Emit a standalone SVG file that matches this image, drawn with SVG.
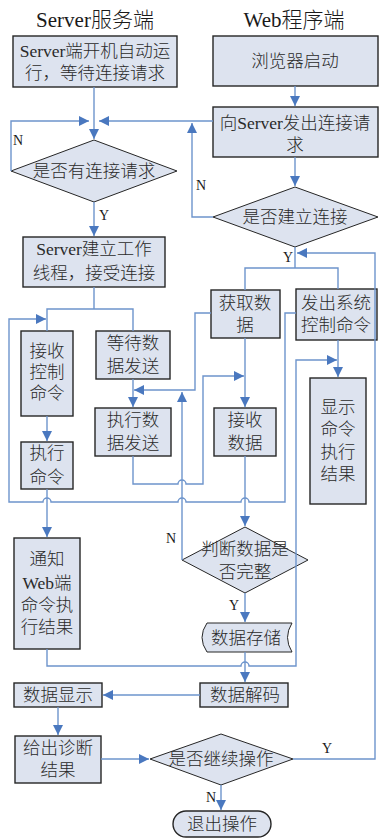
<svg xmlns="http://www.w3.org/2000/svg" width="379" height="838" viewBox="0 0 379 838">
<style>
.n{fill:#dde3ef;stroke:#262626;stroke-width:1.4}
.d{fill:#dde3ef;stroke:#262626;stroke-width:1}
.t{font-family:"Liberation Serif","Noto Sans CJK SC",serif;font-size:17.5px;font-weight:300;fill:#2a2a2a;text-anchor:middle;dominant-baseline:central}
.h{font-family:"Liberation Serif","Noto Sans CJK SC",serif;font-size:21px;font-weight:300;fill:#1a1a1a;text-anchor:middle;dominant-baseline:central}
.l{font-family:"Liberation Serif","Noto Sans CJK SC",serif;font-size:14px;fill:#1a1a1a;text-anchor:middle;dominant-baseline:central}
.c{fill:none;stroke:#6d94cc;stroke-width:1.4}
.a{marker-end:url(#ah)}
</style>
<defs>
<marker id="ah" viewBox="0 0 10 10" refX="10" refY="5" markerWidth="10" markerHeight="10" markerUnits="userSpaceOnUse" orient="auto">
<path d="M0,0 L10,5 L0,10 z" fill="#4a78bf"/>
</marker>
</defs>
<rect width="379" height="838" fill="#ffffff"/>
<text class="h" x="95" y="20">Server服务端</text>
<text class="h" x="294" y="20">Web程序端</text>

<g id="nodes">
<g id="n1"><rect class="n" x="13" y="36" width="164" height="51"/><text class="t" x="95" y="51">Server端开机自动运</text><text class="t" x="95" y="73">行，等待连接请求</text></g>
<g id="n2"><rect class="n" x="213" y="36" width="165" height="50"/><text class="t" x="295" y="61">浏览器启动</text></g>
<g id="n3"><rect class="n" x="213" y="107" width="165" height="50"/><text class="t" x="295" y="123">向Server发出连接请</text><text class="t" x="295" y="145">求</text></g>
<g id="n4"><polygon class="d" points="94,140 177,171 94,202 11,171"/><text class="t" x="94" y="171">是否有连接请求</text></g>
<g id="n5"><polygon class="d" points="295,187 378,217 295,247 213,217"/><text class="t" x="295" y="217">是否建立连接</text></g>
<g id="n6"><rect class="n" x="23" y="237" width="142" height="50"/><text class="t" x="94" y="249">Server建立工作</text><text class="t" x="94" y="273">线程，接受连接</text></g>
<g id="n7"><rect class="n" x="211" y="290" width="69" height="48"/><text class="t" x="245" y="303">获取数</text><text class="t" x="245" y="325">据</text></g>
<g id="n8"><rect class="n" x="296" y="289" width="81" height="51"/><text class="t" x="336" y="303">发出系统</text><text class="t" x="336" y="325">控制命令</text></g>
<g id="n9"><rect class="n" x="21" y="331" width="52" height="85"/><text class="t" x="47" y="351">接收</text><text class="t" x="47" y="372">控制</text><text class="t" x="47" y="393">命令</text></g>
<g id="n10"><rect class="n" x="96" y="331" width="74" height="48"/><text class="t" x="133" y="343">等待数</text><text class="t" x="133" y="366">据发送</text></g>
<g id="n11"><rect class="n" x="95" y="408" width="76" height="48"/><text class="t" x="133" y="420">执行数</text><text class="t" x="133" y="443">据发送</text></g>
<g id="n12"><rect class="n" x="214" y="408" width="62" height="48"/><text class="t" x="245" y="420">接收</text><text class="t" x="245" y="443">数据</text></g>
<g id="n13"><rect class="n" x="21" y="442" width="52" height="47"/><text class="t" x="47" y="453">执行</text><text class="t" x="47" y="477">命令</text></g>
<g id="n14"><rect class="n" x="310" y="378" width="56" height="126"/><text class="t" x="338" y="407">显示</text><text class="t" x="338" y="429">命令</text><text class="t" x="338" y="452">执行</text><text class="t" x="338" y="474">结果</text></g>
<g id="n15"><rect class="n" x="14" y="538" width="66" height="111"/><text class="t" x="47" y="559">通知</text><text class="t" x="47" y="583">Web端</text><text class="t" x="47" y="605">命令执</text><text class="t" x="47" y="627">行结果</text></g>
<g id="n16"><polygon class="d" points="245,527 308,560 245,593 182,560"/><text class="t" x="245" y="549">判断数据是</text><text class="t" x="245" y="572">否完整</text></g>
<g id="n17"><path class="d" d="M207,623 L292,623 Q283,637.5 292,652 L207,652 Q197,637.5 207,623 Z"/><text class="t" x="246" y="638">数据存储</text></g>
<g id="n18"><rect class="n" x="200" y="683" width="88" height="24"/><text class="t" x="245" y="695">数据解码</text></g>
<g id="n19"><rect class="n" x="14" y="683" width="88" height="24"/><text class="t" x="58" y="695">数据显示</text></g>
<g id="n20"><rect class="n" x="15" y="736" width="86" height="47"/><text class="t" x="58" y="748">给出诊断</text><text class="t" x="58" y="770">结果</text></g>
<g id="n21"><polygon class="d" points="221,734 293,759 221,785 150,759"/><text class="t" x="221" y="759">是否继续操作</text></g>
<g id="n22"><rect class="n" x="173" y="811" width="98" height="26" rx="13"/><text class="t" x="222" y="824">退出操作</text></g>
</g>

<g id="connectors">
<path class="c a" d="M94,87 V139"/>
<path class="c a" d="M11,171 V121 H89"/>
<path class="c a" d="M213,121 H99"/>
<path class="c a" d="M213,217 H192 V123"/>
<path class="c a" d="M94,202 V236"/>
<path class="c" d="M94,287 V309 M47,331 V309 H133 V331"/>
<path class="c a" d="M296,313 H285 V502 H249 A4,4 0 0 0 241,502 H186 A4,4 0 0 0 178,502 H51 A4,4 0 0 0 43,502 H9 V319 H46"/>
<path class="c a" d="M47,416 V441"/>
<path class="c a" d="M47,489 V537"/>
<path class="c a" d="M47,649 V666 H241 A4,4 0 0 1 249,666 H296 V360 H337"/>
<path class="c a" d="M338,340 V377"/>
<path class="c a" d="M133,379 V407"/>
<path class="c a" d="M211,313 H195 V390 H134"/>
<path class="c a" d="M182,560 V392"/>
<path class="c a" d="M133,456 V484 H178 A4,4 0 0 1 186,484 H203 V376 H244"/>
<path class="c a" d="M245,338 V407"/>
<path class="c a" d="M245,456 V526"/>
<path class="c a" d="M245,593 V622"/>
<path class="c a" d="M245,652 V682"/>
<path class="c a" d="M200,695 H103"/>
<path class="c a" d="M58,707 V735"/>
<path class="c a" d="M101,759 H149"/>
<path class="c a" d="M293,759 H375 V253 H297"/>
<path class="c a" d="M221,785 V810"/>
<path class="c a" d="M295,86 V106"/>
<path class="c a" d="M295,157 V186"/>
<path class="c" d="M295,247 V268 M245,290 V268 H338 V289"/>
<text class="l" x="18" y="140">N</text>
<text class="l" x="104" y="215">Y</text>
<text class="l" x="201" y="185">N</text>
<text class="l" x="288" y="257">Y</text>
<text class="l" x="171" y="538">N</text>
<text class="l" x="234" y="605">Y</text>
<text class="l" x="327" y="748">Y</text>
<text class="l" x="211" y="797">N</text>
</g>
</svg>
